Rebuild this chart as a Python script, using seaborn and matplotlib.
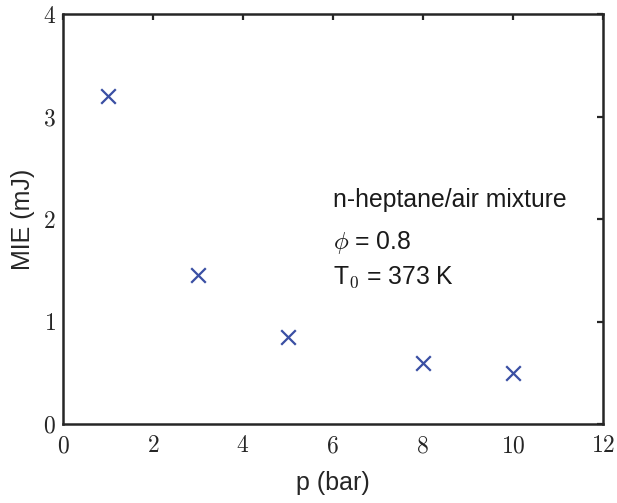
import matplotlib
matplotlib.use("Agg")
import matplotlib.pyplot as plt
import seaborn as sns
import pandas as pd
from matplotlib.ticker import FuncFormatter

pressure = [1, 3, 5, 8, 10]
mie = [3.2, 1.45, 0.85, 0.6, 0.5]
xticks = [0, 2, 4, 6, 8, 10, 12]
yticks = [0, 1, 2, 3, 4]

sns.set_theme(style="white")
plt.rcParams['font.family'] = ['Liberation Sans', 'DejaVu Sans']
plt.rcParams['mathtext.fontset'] = 'cm'

df = pd.DataFrame({"p": pressure, "MIE": mie})

fig = plt.figure(figsize=(6.17, 5.03), dpi=100)
ax = fig.add_axes([0.102, 0.157, 0.875, 0.815])

sns.scatterplot(data=df, x="p", y="MIE", marker="x", s=110, color="#3A4FA3",
                linewidth=1.6, ax=ax, legend=False)

ax.set_xlim(0, 12)
ax.set_ylim(0, 4)
ax.set_xticks(xticks)
ax.set_yticks(yticks)
fmt = FuncFormatter(lambda v, pos: f"${v:g}$")
ax.xaxis.set_major_formatter(fmt)
ax.yaxis.set_major_formatter(fmt)
ax.tick_params(direction="in", length=4, width=1.6, top=True, right=True,
               labelsize=17, colors="#262626")
ax.tick_params(axis="x", pad=8)
ax.tick_params(axis="y", pad=5)
for s in ax.spines.values():
    s.set_linewidth(1.8)
    s.set_color("#262626")

ax.set_xlabel("p (bar)", fontsize=18, color="#262626", labelpad=10)
ax.set_ylabel("MIE (mJ)", fontsize=18, color="#262626", labelpad=6)

ax.text(6.0, 2.19, "n-heptane/air mixture", fontsize=17.8, va="center", ha="left", color="#1a1a1a")
ax.text(6.0, 1.77, r"$\phi$ = 0.8", fontsize=17.8, va="center", ha="left", color="#1a1a1a")
ax.text(6.0, 1.43, r"T$_\mathsf{0}$ = 373 K", fontsize=17.8, va="center", ha="left", color="#1a1a1a")

fig.savefig("out.png", dpi=100)
